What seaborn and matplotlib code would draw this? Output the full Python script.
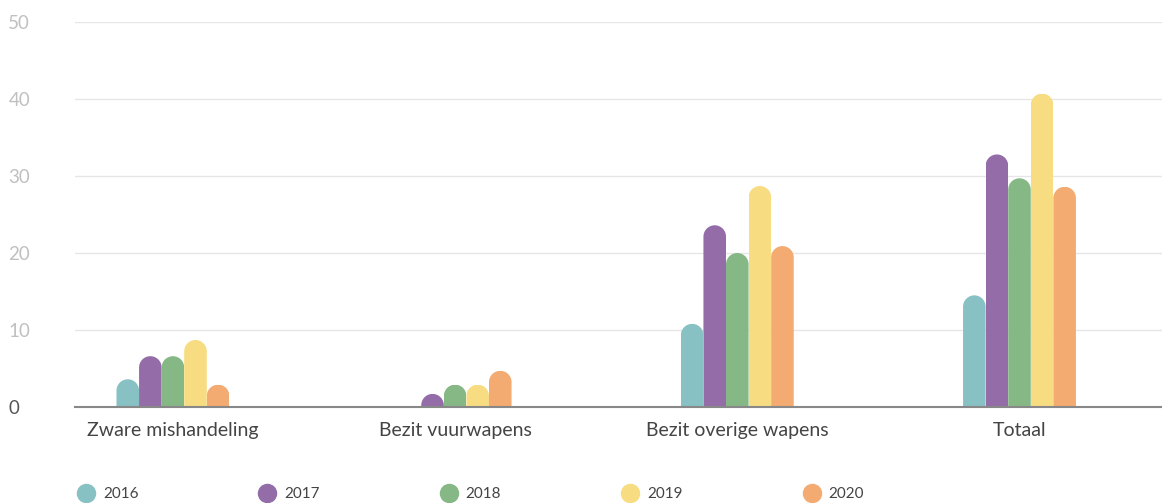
import numpy as np
import pandas as pd
import seaborn as sns
import matplotlib.pyplot as plt
from matplotlib.path import Path
from matplotlib.lines import Line2D

categories = ["Zware mishandeling", "Bezit vuurwapens", "Bezit overige wapens", "Totaal"]
years = ["2016", "2017", "2018", "2019", "2020"]
v2016 = [3.6, 0.0, 10.8, 14.5]
v2017 = [6.6, 1.7, 23.6, 32.8]
v2018 = [6.6, 2.9, 20.0, 29.7]
v2019 = [8.7, 2.9, 28.7, 40.7]
v2020 = [2.9, 4.7, 20.9, 28.6]
yticks = [0, 10, 20, 30, 40, 50]
colors = ["#88c1c4", "#936ca8", "#86b886", "#f7dc82", "#f3ab72"]

series = [v2016, v2017, v2018, v2019, v2020]
rows = []
for yr, vals in zip(years, series):
    for cat, v in zip(categories, vals):
        rows.append({"category": cat, "year": yr, "value": v})
df = pd.DataFrame(rows)

sns.set_theme(style="white")
plt.rcParams['font.family'] = ['Lato', 'DejaVu Sans']

W, H = 1162, 503
fig = plt.figure(figsize=(W / 100, H / 100), dpi=100)
ax = fig.add_axes([75 / W, 96 / H, 1087 / W, 385 / H])

sns.barplot(data=df, x="category", y="value", hue="year", order=categories,
            hue_order=years, palette=colors, width=0.4, gap=0, saturation=1,
            legend=False, ax=ax, linewidth=0)

ax.set_xlim(-0.347, 3.505)
ax.set_ylim(0, 50)
ax.set_yticks(yticks)
ax.set_xlabel("")
ax.set_ylabel("")

# rounded tops via clip paths
fig.canvas.draw()
bb = ax.get_window_extent()
xl = ax.get_xlim(); yl = ax.get_ylim()
aspect = ((yl[1] - yl[0]) / bb.height) / ((xl[1] - xl[0]) / bb.width)
arc = Path.arc(0, 180)
for p in ax.patches:
    x, w, h = p.get_x(), p.get_width(), p.get_height()
    if h <= 0:
        continue
    rx = w / 2
    ry = rx * aspect
    cx = x + rx
    cy = h - ry
    verts = [(x, -5), (x + w, -5), (x + w, cy)]
    codes = [Path.MOVETO, Path.LINETO, Path.LINETO]
    av = arc.vertices
    for i, (vx, vy) in enumerate(av):
        verts.append((cx + rx * vx, cy + ry * vy))
        codes.append(Path.LINETO if i == 0 else arc.codes[i])
    verts.append((x, -5))
    codes.append(Path.LINETO)
    verts.append((x, -5))
    codes.append(Path.CLOSEPOLY)
    p.set_clip_path(Path(verts, codes), ax.transData)

for s in ["top", "right", "left"]:
    ax.spines[s].set_visible(False)
ax.spines["bottom"].set_color("#888888")
ax.spines["bottom"].set_linewidth(1.5)

ax.yaxis.grid(True, color="#e6e6e6", linewidth=1)
ax.xaxis.grid(False)
ax.set_axisbelow(True)

ax.tick_params(axis="x", length=0, pad=11, labelsize=14, labelcolor="#444444")
ax.tick_params(axis="y", length=0, pad=48, labelsize=13.5, labelcolor="#c0c0c0")
for lab in ax.get_yticklabels():
    lab.set_horizontalalignment("left")
    if lab.get_text() == "0":
        lab.set_color("#555555")

handles = [Line2D([], [], marker="o", linestyle="", markersize=13,
                  markerfacecolor=c, markeredgecolor=c) for c in colors]
fs = 11
fig.legend(handles, years, loc="center left",
           bbox_to_anchor=((86 - 1.2 * fs * 100 / 72 / 2) / W, 1 - 494 / H),
           ncol=5, frameon=False, fontsize=fs, handlelength=1.2,
           handletextpad=0.5, columnspacing=7.85, borderpad=0, borderaxespad=0,
           labelcolor="#444444")

fig.savefig("out.png", dpi=100)
